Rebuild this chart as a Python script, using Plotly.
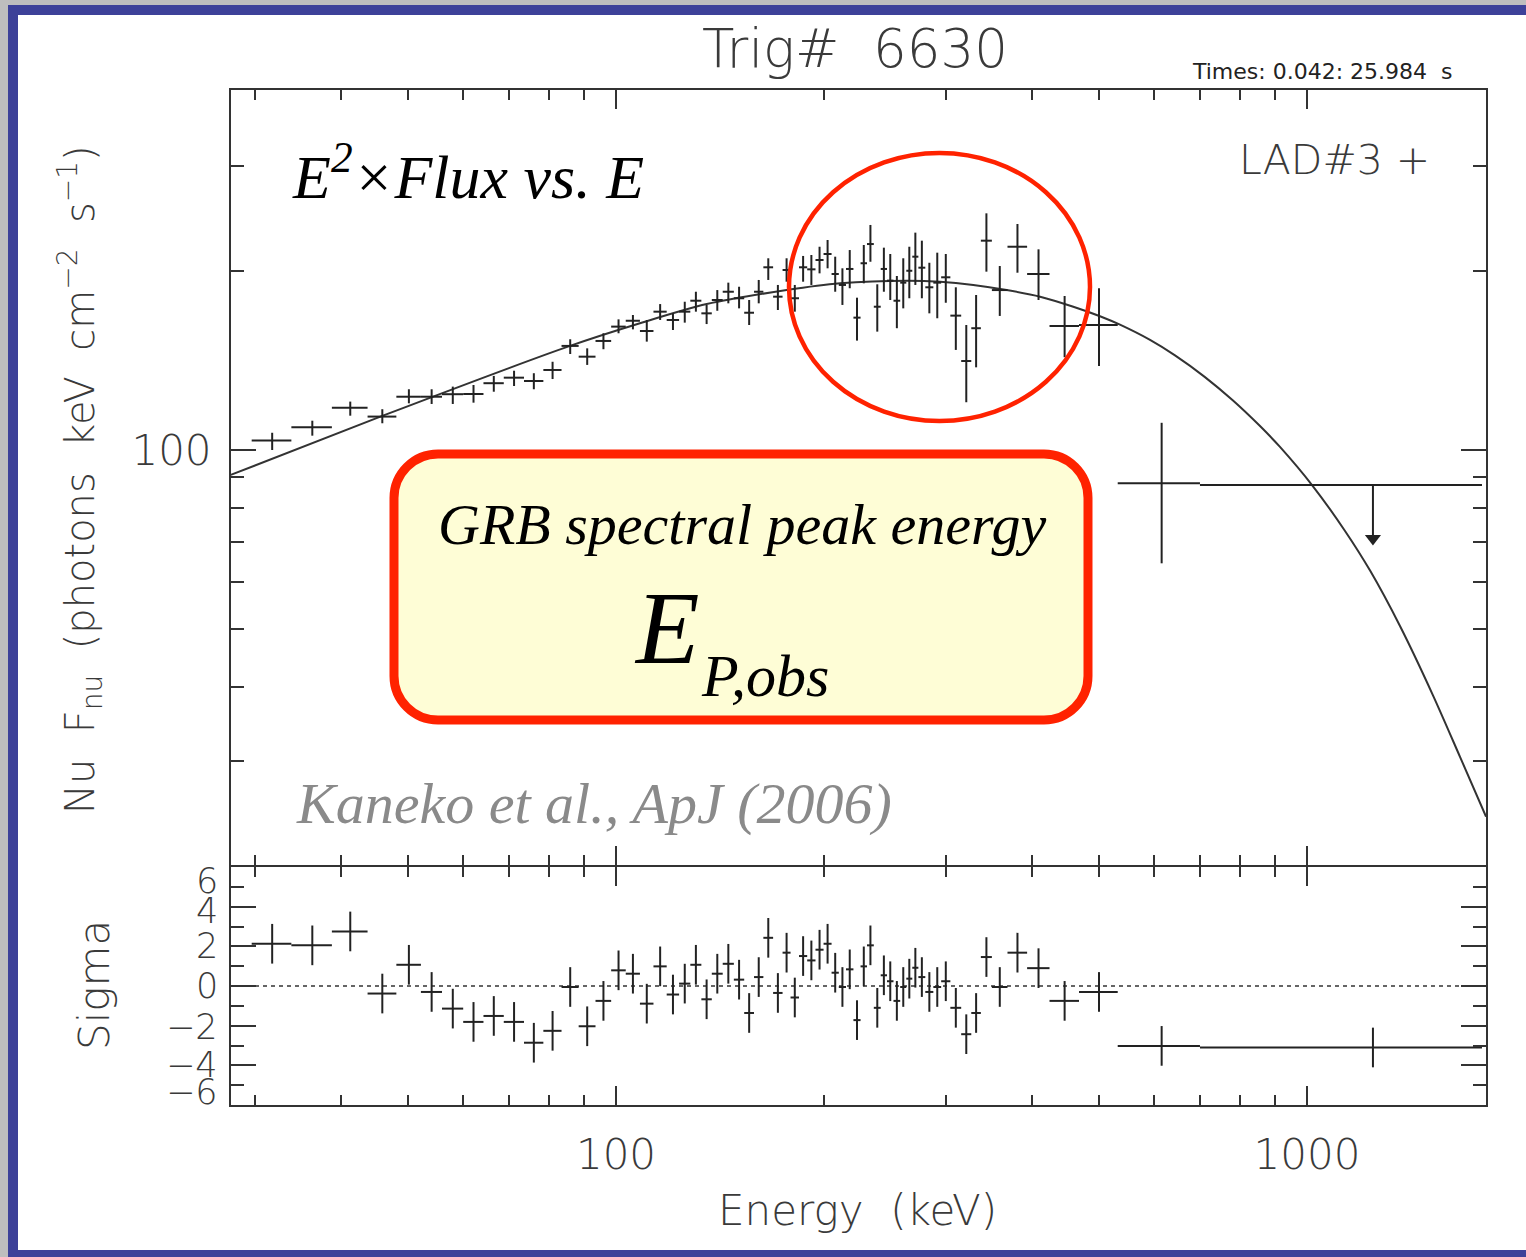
import plotly.graph_objects as go

W, H = 1526, 1257

# ---------------- spectrum data ----------------
# energy bin edges (keV); each cross spans one bin
bin_edges = [29.7, 33.9, 38.8, 43.7, 48.1, 52.2, 56.0, 60.1, 64.3, 68.8,
             73.6, 78.5, 83.4, 88.3, 93.4, 98.4, 103.3, 108.3, 113.3, 118.4,
             123.4, 128.1, 132.9, 137.6, 142.7, 148.1, 153.3, 158.4, 163.4, 168.8,
             174.2, 178.9, 184.0, 189.1, 194.4, 199.7, 205.1, 210.1, 215.2, 220.6,
             225.9, 230.8, 236.1, 241.6, 246.7, 252.1, 257.8, 263.1, 268.4, 273.9,
             280.3, 287.9, 295.5, 304.7, 315.9, 326.7, 337.3, 349.9, 368.6, 393.5,
             424.0, 467.8, 532.2, 700.0, 1791.5]

# Nu F_nu per bin and the top / bottom of its error bar
nufnu = [103.7, 109.2, 117.8, 113.8, 122.9, 122.9, 124.1, 124.2, 129.5, 132.3,
         130.6, 136.3, 149.6, 143.5, 152.5, 161.2, 164.9, 158.5, 170.8, 165.4,
         170.8, 178.2, 169.7, 178.7, 184.5, 179.9, 170.1, 184.5, 202.8, 181.0,
         200.7, 179.9, 202.8, 201.2, 208.6, 213.5, 197.6, 189.4, 201.5, 166.9,
         206.0, 221.9, 174.1, 201.5, 192.6, 178.2, 191.1, 200.1, 211.3, 202.5,
         187.7, 191.1, 195.1, 168.2, 141.1, 160.2, 224.8, 185.7, 219.6, 197.6,
         161.6, 162.2, 87.9]
nufnu_hi = [106.9, 112.0, 120.6, 117.1, 126.5, 126.5, 127.8, 128.6, 133.2, 135.9,
            134.6, 140.7, 153.5, 148.2, 157.1, 165.8, 168.6, 165.4, 175.9, 169.7,
            177.5, 184.5, 175.3, 185.7, 191.1, 188.1, 178.7, 193.1, 210.0, 189.4,
            210.0, 189.4, 211.9, 212.7, 219.6, 225.4, 211.3, 202.0, 216.8, 180.3,
            221.1, 238.9, 189.9, 218.8, 213.5, 196.1, 210.0, 219.6, 231.9, 224.8,
            206.4, 214.6, 213.5, 187.7, 162.2, 182.2, 249.9, 203.8, 239.8, 217.4,
            181.5, 187.0, 111.1]
nufnu_lo = [100.0, 105.7, 114.2, 110.9, 119.8, 119.5, 119.5, 120.1, 125.3, 128.1,
            126.5, 131.6, 145.0, 139.0, 147.7, 157.1, 159.5, 152.1, 165.4, 159.1,
            163.7, 170.8, 162.8, 171.4, 176.4, 173.0, 162.2, 176.4, 193.1, 171.9,
            191.8, 170.8, 191.8, 189.4, 198.1, 202.0, 184.5, 175.3, 187.0, 152.7,
            190.6, 207.2, 158.1, 184.5, 178.7, 160.2, 173.0, 179.9, 189.4, 179.9,
            169.7, 166.5, 176.8, 147.3, 120.3, 137.7, 199.4, 168.0, 198.6, 178.7,
            143.2, 138.4, 64.5]
# last bin is an upper limit
ul_nufnu = 87.3

# residuals in units of sigma, one per bin (including the upper-limit bin)
sigma = [2.13, 2.05, 2.75, -0.38, 1.07, -0.30, -1.14, -1.81, -1.51, -1.81,
         -2.86, -2.26, -0.05, -2.03, -0.75, 0.79, 0.62, -0.89, 0.99, -0.43,
         0.12, 1.07, -0.67, 0.62, 1.12, 0.32, -1.36, 0.45, 2.43, -0.35,
         1.68, -0.58, 1.51, 1.29, 1.83, 2.13, 0.67, -0.05, 0.84, -1.72,
         0.99, 2.05, -1.10, 0.54, 0.24, -0.75, -0.05, 0.37, 0.92, 0.45,
         -0.30, -0.05, 0.24, -1.10, -2.43, -1.36, 1.46, -0.05, 1.68, 0.90,
         -0.75, -0.30, -3.02, -3.10]

# best-fit model curve
model_energy = [27.7, 46.0, 85.8, 108.3, 135.3, 176.6, 211.0, 263.5, 294.4, 328.9,
                367.6, 410.9, 459.0, 501.7, 536.2, 592.7, 644.1, 711.8, 781.5,
                855.1, 913.9, 1020.2, 1135.1, 1233.9, 1363.2, 1521.6, 1665.1, 1815.7]
model_nufnu = [90.8, 114.2, 149.6, 163.3, 175.9, 185.7, 190.6, 192.6, 191.8, 189.4,
               185.7, 181.0, 174.1, 167.8, 162.4, 153.1, 144.2, 132.6, 121.1,
               109.7, 101.2, 86.9, 73.1, 62.7, 50.6, 38.7, 30.5, 24.2]

# ---------------- ticks ----------------
x_major = [100, 1000]
x_major_text = ["100", "1000"]
x_minor = [30, 40, 50, 60, 70, 80, 90, 200, 300, 400, 500, 600, 700, 800, 900]
y_major = [100]
y_major_text = ["100"]
y_minor = [20, 30, 40, 50, 60, 70, 80, 90, 200, 300]
sig_major = [-6, -4, -2, 0, 2, 4, 6]
sig_minor = [-5, -3, -1, 1, 3, 5]
sig_label_text = ["6", "4", "2", "0", "\u22122", "\u22124", "\u22126"]
sig_label_pos = [5.3, 3.8, 2.0, 0.0, -2.05, -4.0, -5.35]

# ---------------- derived bin geometry ----------------
e_lo = bin_edges[:-1]
e_hi = bin_edges[1:]
e_mid = [(a + b) / 2 for a, b in zip(e_lo, e_hi)]
n_det = len(nufnu)


def px(x):
    return x / W


def py(y):
    return 1 - y / H


INK = "#222222"
AX = "#333333"
TXT = "#3a3a3a"
SANS = "DejaVu Sans"
SERIF = "Liberation Serif"
RED = "#FF2200"
LIGHT = 200

fig = go.Figure()

# model curve
fig.add_trace(go.Scatter(
    x=model_energy, y=model_nufnu, mode="lines",
    line=dict(color=AX, width=2, shape="spline", smoothing=0.8),
    xaxis="x", yaxis="y", hoverinfo="skip", showlegend=False))

# detected bins
fig.add_trace(go.Scatter(
    x=e_mid[:n_det], y=nufnu, mode="markers",
    marker=dict(size=1, color=INK),
    error_x=dict(type="data", symmetric=False,
                 array=[h - m for h, m in zip(e_hi[:n_det], e_mid[:n_det])],
                 arrayminus=[m - l for m, l in zip(e_mid[:n_det], e_lo[:n_det])],
                 width=0, thickness=2, color=INK),
    error_y=dict(type="data", symmetric=False,
                 array=[h - v for h, v in zip(nufnu_hi, nufnu)],
                 arrayminus=[v - l for v, l in zip(nufnu, nufnu_lo)],
                 width=0, thickness=2, color=INK),
    xaxis="x", yaxis="y", showlegend=False))

# upper-limit bin
fig.add_trace(go.Scatter(
    x=[e_mid[-1]], y=[ul_nufnu], mode="markers",
    marker=dict(size=1, color=INK),
    error_x=dict(type="data", symmetric=False,
                 array=[e_hi[-1] - e_mid[-1]], arrayminus=[e_mid[-1] - e_lo[-1]],
                 width=0, thickness=2, color=INK),
    xaxis="x", yaxis="y", showlegend=False))
fig.add_trace(go.Scatter(
    x=[e_mid[-1], e_mid[-1]], y=[ul_nufnu, ul_nufnu * 0.805], mode="lines",
    line=dict(color=INK, width=2), xaxis="x", yaxis="y", showlegend=False))
fig.add_trace(go.Scatter(
    x=[e_mid[-1]], y=[ul_nufnu * 0.813], mode="markers",
    marker=dict(symbol="triangle-down", size=14, color=INK, line=dict(width=0)),
    xaxis="x", yaxis="y", showlegend=False))

# residuals
fig.add_trace(go.Scatter(
    x=e_mid, y=sigma, mode="markers",
    marker=dict(size=1, color=INK),
    error_x=dict(type="data", symmetric=False,
                 array=[h - m for h, m in zip(e_hi, e_mid)],
                 arrayminus=[m - l for m, l in zip(e_mid, e_lo)],
                 width=0, thickness=2, color=INK),
    error_y=dict(type="constant", value=1, width=0, thickness=2, color=INK),
    xaxis="x2", yaxis="y2", showlegend=False))

x_range = [1.442836, 3.259045]
x_dom = [px(231), px(1486)]

common_axis = dict(showline=True, linecolor=AX, linewidth=2, mirror="allticks",
                   ticks="inside", tickcolor=AX, tickwidth=2, showgrid=False,
                   zeroline=False,
                   tickfont=dict(family=SANS, size=42, color=TXT, weight=LIGHT))

fig.update_layout(
    width=W, height=H,
    margin=dict(l=0, r=0, t=0, b=0),
    paper_bgcolor="#BEBEBE",
    plot_bgcolor="rgba(0,0,0,0)",
    xaxis=dict(type="log", range=x_range, domain=x_dom, anchor="y",
               tickmode="array", tickvals=x_major, ticklen=19,
               showticklabels=False,
               minor=dict(tickmode="array", tickvals=x_minor, ticks="inside",
                          ticklen=10, tickwidth=2, tickcolor=AX),
               **common_axis),
    yaxis=dict(type="log", range=[1.30252, 2.60504], domain=[py(865), py(90)],
               anchor="x", tickmode="array", tickvals=y_major, ticktext=y_major_text,
               ticklen=25, ticklabelstandoff=9,
               minor=dict(tickmode="array", tickvals=y_minor, ticks="inside",
                          ticklen=13, tickwidth=2, tickcolor=AX),
               **common_axis),
    xaxis2=dict(type="log", range=x_range, domain=x_dom, anchor="y2",
                tickmode="array", tickvals=x_major, ticktext=x_major_text,
                ticklen=19, ticklabelstandoff=12,
                minor=dict(tickmode="array", tickvals=x_minor, ticks="inside",
                           ticklen=10, tickwidth=2, tickcolor=AX),
                **common_axis),
    # the top edge sits 2 px lower so its frame line merges with the panel above
    yaxis2=dict(range=[-6, 6], domain=[py(1105), py(867)], anchor="x2",
                tickmode="array", tickvals=sig_major, ticklen=25,
                showticklabels=False,
                minor=dict(tickmode="array", tickvals=sig_minor, ticks="inside",
                           ticklen=13, tickwidth=2, tickcolor=AX),
                **common_axis),
)

# rounded call-out box path (pixel corners converted to paper units)
bx0, bx1, by0, by1, r = 394, 1088, 454, 720, 44
k = 0.5523 * r


def P(x, y):
    return f"{px(x):.6f},{py(y):.6f}"


box_path = (
    f"M {P(bx0 + r, by0)} L {P(bx1 - r, by0)} "
    f"C {P(bx1 - r + k, by0)} {P(bx1, by0 + r - k)} {P(bx1, by0 + r)} "
    f"L {P(bx1, by1 - r)} "
    f"C {P(bx1, by1 - r + k)} {P(bx1 - r + k, by1)} {P(bx1 - r, by1)} "
    f"L {P(bx0 + r, by1)} "
    f"C {P(bx0 + r - k, by1)} {P(bx0, by1 - r + k)} {P(bx0, by1 - r)} "
    f"L {P(bx0, by0 + r)} "
    f"C {P(bx0, by0 + r - k)} {P(bx0 + r - k, by0)} {P(bx0 + r, by0)} Z"
)

shapes = [
    # slide frame
    dict(type="rect", xref="paper", yref="paper", x0=px(8), x1=px(1560),
         y0=py(1275), y1=py(5), fillcolor="#3D4199", line=dict(width=0), layer="below"),
    dict(type="rect", xref="paper", yref="paper", x0=px(18), x1=px(1560),
         y0=py(1250), y1=py(15), fillcolor="white", line=dict(width=0), layer="below"),
    # zero line of the residual panel
    dict(type="line", xref="x2 domain", yref="y2", x0=0, x1=1, y0=0, y1=0,
         line=dict(color=AX, width=1.5, dash="4px,4px"), layer="below"),
    # highlight of the peak region
    dict(type="circle", xref="paper", yref="paper", x0=px(789), x1=px(1090),
         y0=py(421), y1=py(153), line=dict(color=RED, width=4.5), layer="above"),
    # call-out box
    dict(type="path", xref="paper", yref="paper", path=box_path,
         fillcolor="#FEFDD6", line=dict(color=RED, width=9), layer="above"),
]
fig.update_layout(shapes=shapes)

ann = []


def add_text(text, x, y, size, family=SANS, color=TXT, xanchor="center",
             angle=0, italic=False, weight=None):
    font = dict(family=family, size=size, color=color,
                style="italic" if italic else "normal")
    if weight is not None:
        font["weight"] = weight
    ann.append(dict(text=text, x=px(x), y=py(y), xref="paper", yref="paper",
                    showarrow=False, xanchor=xanchor, yanchor="middle",
                    textangle=angle, font=font))


add_text("Trig#  6630", 855, 48, 53, weight=LIGHT)
add_text("Times: 0.042: 25.984  s", 1455, 72, 22, xanchor="right", color="#222")
add_text("LAD#3 +", 1432, 160, 41, xanchor="right", weight=LIGHT)
add_text("Nu  F<sub>nu</sub>  (photons  keV  cm<sup>\u22122</sup>  s<sup>\u22121</sup>)",
         80, 480, 40, angle=-90, weight=LIGHT)
add_text("Sigma", 95, 985, 42, angle=-90, weight=LIGHT)
add_text("Energy  (keV)", 857, 1210, 42, weight=LIGHT)
add_text("E<sup>2</sup>\u00d7<i>Flux vs. E</i>", 290, 172, 62, family=SERIF,
         color="black", xanchor="left", italic=True)
add_text("GRB spectral peak energy", 742, 524, 58, family=SERIF, color="black",
         italic=True)
add_text("E", 667, 627, 104, family=SERIF, color="black", italic=True)
add_text("P,obs", 699, 676, 60, family=SERIF, color="black", xanchor="left",
         italic=True)
add_text("Kaneko et al., ApJ (2006)", 594, 803, 58, family=SERIF, color="#8a8a8a",
         italic=True)

for t, v in zip(sig_label_text, sig_label_pos):
    ann.append(dict(text=t, x=px(220), y=v, xref="paper", yref="y2",
                    showarrow=False, xanchor="right", yanchor="middle",
                    font=dict(family=SANS, size=35, color=TXT, weight=LIGHT)))

fig.update_layout(annotations=ann)

fig.write_html("out.html", config={"displayModeBar": False})
